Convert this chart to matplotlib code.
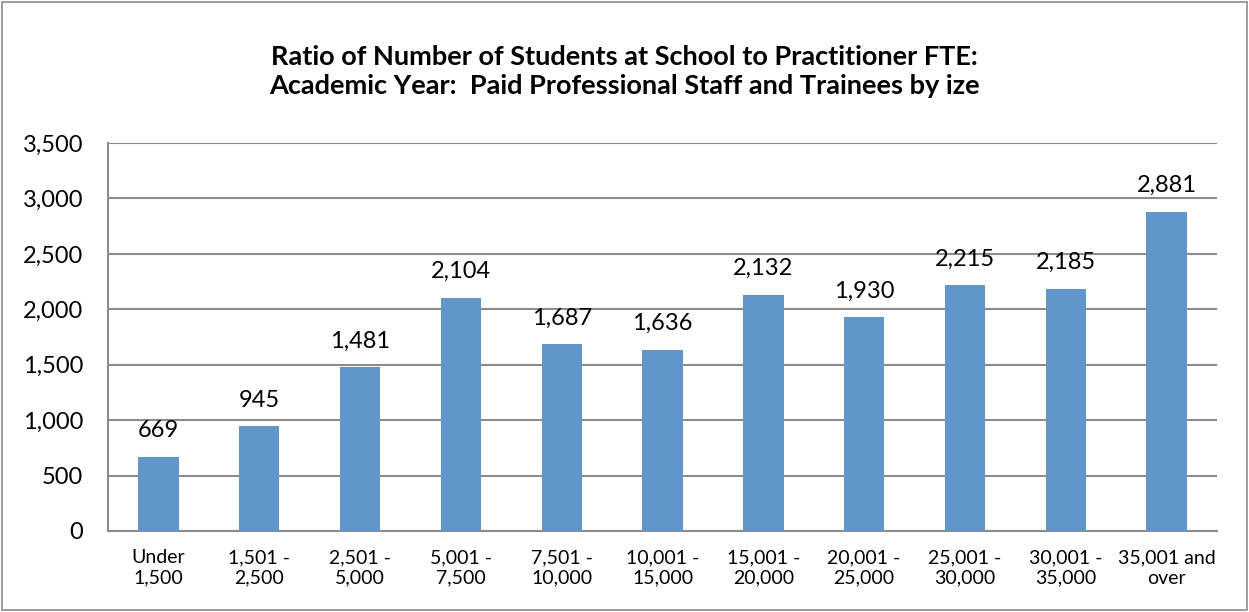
import matplotlib
matplotlib.use("Agg")
import matplotlib.pyplot as plt
from matplotlib.patches import Rectangle

categories = ["Under\n1,500", "1,501 -\n2,500", "2,501 -\n5,000", "5,001 -\n7,500",
              "7,501 -\n10,000", "10,001 -\n15,000", "15,001 -\n20,000", "20,001 -\n25,000",
              "25,001 -\n30,000", "30,001 -\n35,000", "35,001 and\nover"]
values = [669, 945, 1481, 2104, 1687, 1636, 2132, 1930, 2215, 2185, 2881]
yticks = [0, 500, 1000, 1500, 2000, 2500, 3000, 3500]
title = "Ratio of Number of Students at School to Practitioner FTE:\nAcademic Year:  Paid Professional Staff and Trainees by ize"

plt.rcParams['font.family'] = ['Lato', 'DejaVu Sans']

fig = plt.figure(figsize=(12.49, 6.12), dpi=100)
fig.patches.append(Rectangle((0.002, 0.003), 0.996, 0.994, transform=fig.transFigure,
                             fill=False, edgecolor="#8c8c8c", linewidth=1.2))
ax = fig.add_axes([0.0865, 0.1324, 0.8879, 0.6339])

x = list(range(len(values)))
ax.bar(x, values, width=0.4, color="#6096CA", zorder=3)
for xi, v in zip(x, values):
    ax.annotate(f"{v:,}", (xi, v), xytext=(0, 14), textcoords="offset points",
                ha="center", va="baseline", fontsize=17, color="black")

ax.set_xlim(-0.5, len(values) - 0.5)
ax.set_ylim(0, 3500)
ax.set_yticks(yticks)
ax.set_yticklabels([f"{t:,}" for t in yticks], fontsize=17)
ax.set_xticks(x)
ax.set_xticklabels(categories, fontsize=14, linespacing=1.25)
ax.tick_params(axis="y", length=0, pad=18)
ax.tick_params(axis="x", length=0, pad=13)
ax.grid(axis="y", color="#8c8c8c", linewidth=1.5, zorder=0)
for s in ["top", "right"]:
    ax.spines[s].set_visible(False)
for s in ["left", "bottom"]:
    ax.spines[s].set_color("#8c8c8c")
    ax.spines[s].set_linewidth(1.5)

fig.text(0.5, 0.883, title, ha="center", va="center", fontsize=19.5, fontweight="bold",
         linespacing=1.25)

fig.savefig("out.png", dpi=100)
